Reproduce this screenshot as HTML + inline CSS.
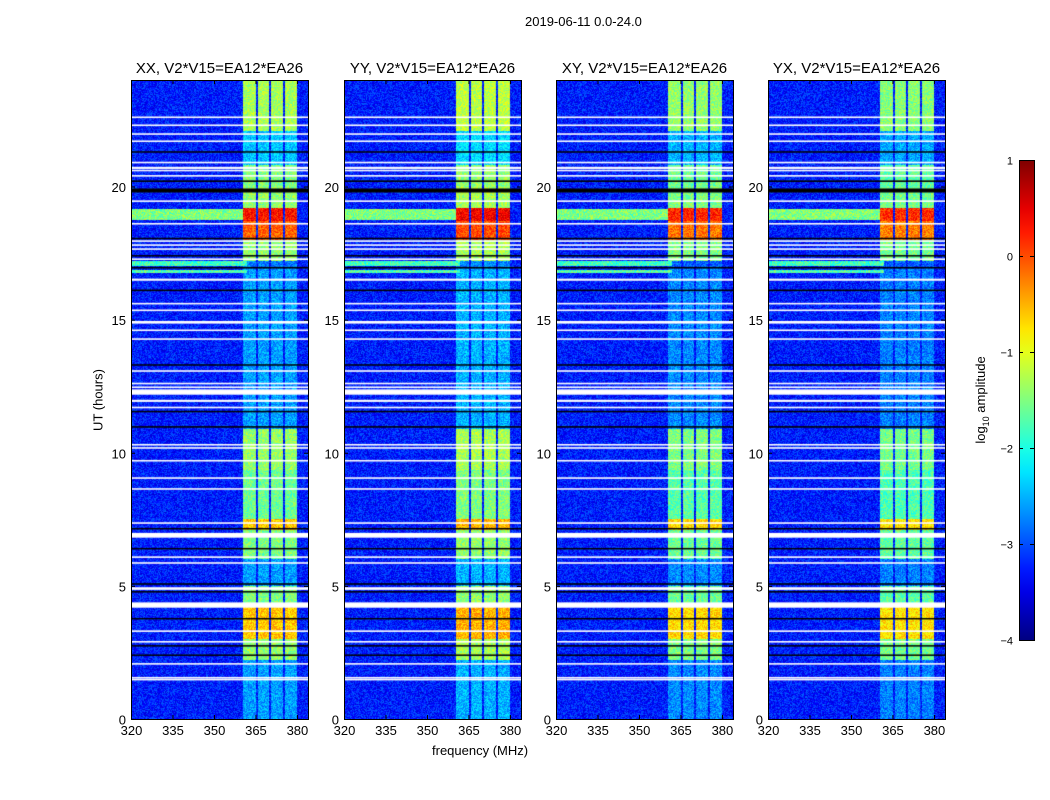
<!DOCTYPE html>
<html><head><meta charset="utf-8">
<style>
body{margin:0;background:#fff;font-family:"Liberation Sans",sans-serif;}
#wrap{position:relative;width:1050px;height:800px;overflow:hidden;background:#fff;}
.t{position:absolute;white-space:nowrap;color:#000;}
canvas{position:absolute;}
</style></head>
<body>
<div id="wrap">
<div class="t" style="left:525px;top:14px;font-size:13px;">2019-06-11 0.0-24.0</div>
<div class="t" style="left:432px;top:743px;font-size:13px;">frequency (MHz)</div>
<div class="t" style="left:98px;top:400px;font-size:13px;transform:translate(-50%,-50%) rotate(-90deg);">UT (hours)</div>
<div class="t" style="left:982px;top:400px;font-size:13px;transform:translate(-50%,-50%) rotate(-90deg);">log<sub style="font-size:9px">10</sub> amplitude</div>
<svg id="ov" width="1050" height="800" style="position:absolute;left:0;top:0"></svg>
</div>
<script>
const panelTitles=["XX, V2*V15=EA12*EA26","YY, V2*V15=EA12*EA26","XY, V2*V15=EA12*EA26","YX, V2*V15=EA12*EA26"];
const panelLeft=[131,344,556,768];
const xTicks=[320,335,350,365,380];
const yTicks=[0,5,10,15,20];
const cbTicks=[1,0,-1,-2,-3,-4];
const freqMin=320, freqMax=384, hourMin=0, hourMax=24;
const background=-3.25;
// RFI frequency bands [f0,f1]
const bandLo=[360.5,366,370.6,375.6];
const bandHi=[365.2,370,375.0,380];
// band level per time segment
const segStart=[0,2.2,3.0,4.3,5.0,6.0,7.1,7.5,9.35,10.9,16.9,17.2,18.0,18.7,19.2,20.0,20.8,22.1];
const segEnd  =[2.2,3.0,4.3,5.0,6.0,7.1,7.5,9.35,10.9,16.9,17.2,18.0,18.7,19.2,20.0,20.8,22.1,24];
const segLevel=[-2.6,-1.4,-0.6,-1.5,-2.6,-1.5,-0.6,-1.6,-1.4,-2.6,-2.8,-1.4,-0.1,0.3,-1.4,-1.5,-2.4,-1.3];
// broadband RFI rows
const bbStart=[16.75,17.0,18.75];
const bbEnd=[16.85,17.2,19.15];
const bbLevel=[-1.7,-1.8,-1.5];
// flagged rows: hour center, thickness (h), 1=white 0=black
const flagHour=[22.6,22.3,21.97,21.7,21.3,20.9,20.7,20.6,20.4,20.2,19.85,19.45,18.6,18.05,17.95,17.8,17.65,17.4,17.27,16.95,16.5,16.1,15.6,15.35,14.9,14.6,14.27,13.3,13.07,12.6,12.46,12.28,11.95,11.7,11.55,10.97,10.3,10.18,9.7,9.05,8.64,7.36,7.15,6.9,6.4,6.08,5.86,5.07,4.9,4.78,4.28,3.77,3.3,2.9,2.75,2.4,2.07,1.55,1.48];
const flagThick=[0.06,0.06,0.06,0.06,0.05,0.06,0.08,0.06,0.06,0.06,0.15,0.06,0.06,0.05,0.06,0.06,0.06,0.05,0.06,0.06,0.08,0.06,0.06,0.06,0.1,0.06,0.06,0.05,0.06,0.06,0.06,0.2,0.08,0.06,0.05,0.06,0.06,0.06,0.06,0.06,0.06,0.06,0.05,0.18,0.05,0.06,0.06,0.06,0.1,0.05,0.2,0.05,0.06,0.06,0.05,0.05,0.06,0.06,0.06];
const flagWhite=[1,1,1,1,0,1,1,1,1,0,0,1,1,0,1,1,1,0,1,0,1,0,1,1,1,1,1,0,1,1,1,1,1,1,0,0,1,1,1,1,1,1,0,1,0,1,1,0,1,0,1,0,1,1,0,0,1,1,1];
const panelOffset=[0,0.1,-0.1,-0.15];

const PW=177, PT=80, PB=719, PH=PB-PT;
const xs=f=>(f-freqMin)/(freqMax-freqMin)*PW;
const ys=h=>PB-(h-hourMin)/(hourMax-hourMin)*PH;
function jet(v){
  const c=x=>Math.max(0,Math.min(1,x));
  return [c(1.5-Math.abs(4*v-3)),c(1.5-Math.abs(4*v-2)),c(1.5-Math.abs(4*v-1))].map(x=>Math.round(x*255));
}
function hash(a,b,c){let h=(a*374761393+b*668265263+c*982451653)|0;h=(h^(h>>>13))*1274126177|0;return ((h^(h>>>16))>>>0)/4294967296;}
const wrap=document.getElementById('wrap');
const ov=document.getElementById('ov');
const NS='http://www.w3.org/2000/svg';
function sv(tag,attrs,parent){const e=document.createElementNS(NS,tag);for(const k in attrs)e.setAttribute(k,attrs[k]);(parent||ov).appendChild(e);return e;}

panelLeft.forEach((L,p)=>{
  const cv=document.createElement('canvas');
  
  
  cv.width=PW;cv.height=PH;cv.style.left=L+'px';cv.style.top=PT+'px';
  wrap.insertBefore(cv,ov);
  const ctx=cv.getContext('2d');const img=ctx.createImageData(PW,PH);
  for(let r=0;r<PH;r++){
    const h=hourMax-(r+0.5)/PH*(hourMax-hourMin);
    let seg=-3;for(let i=0;i<segStart.length;i++)if(h>=segStart[i]&&h<segEnd[i])seg=segLevel[i]+panelOffset[p];
    let bb=null;for(let i=0;i<bbStart.length;i++)if(h>=bbStart[i]&&h<bbEnd[i])bb=bbLevel[i];
    for(let c=0;c<PW;c++){
      const f=freqMin+(c+0.5)/PW*(freqMax-freqMin);
      const n=hash(c,r,p);
      let v=background+(n-0.5)*0.75;
      if(bb!==null&&f<362)v=bb+(n-0.5)*0.8;
      for(let b=0;b<bandLo.length;b++){
        if(f>=bandLo[b]&&f<bandHi[b]){v=Math.max(v,seg+(n-0.5)*0.7);}
      }
      const t=Math.max(0,Math.min(1,(v+4)/5));
      const col=jet(t);const k=(r*PW+c)*4;
      img.data[k]=col[0];img.data[k+1]=col[1];img.data[k+2]=col[2];img.data[k+3]=255;
    }
  }
  ctx.putImageData(img,0,0);
  for(let i=0;i<flagHour.length;i++){
    const y0=(hourMax-(flagHour[i]+flagThick[i]/2))/(hourMax-hourMin)*PH;
    const hh=Math.max(1.5,flagThick[i]/24*PH);
    ctx.fillStyle=flagWhite[i]?'#fff':'#000';
    ctx.fillRect(0,y0,PW,hh);
  }
  const fr=sv('rect',{x:L+0.5,y:PT+0.5,width:PW,height:PH,fill:'none',stroke:'#000','stroke-width':1});
  
  const tt=sv('text',{x:L+PW/2,y:73,'font-size':15,'text-anchor':'middle','font-family':'Liberation Sans, sans-serif'});
  tt.textContent=panelTitles[p];
  
  xTicks.forEach(v=>{
    const x=L+xs(v)+0.5;
    sv('line',{x1:x,x2:x,y1:PB,y2:PB-4,stroke:'#000'});
    sv('line',{x1:x,x2:x,y1:PT,y2:PT+4,stroke:'#000'});
    const t=sv('text',{x:x,y:PB+16,'font-size':13,'text-anchor':'middle','font-family':'Liberation Sans, sans-serif'});
    t.textContent=v;
    
  });
  yTicks.forEach(v=>{
    const y=ys(v)+0.5;
    sv('line',{x1:L,x2:L+4,y1:y,y2:y,stroke:'#000'});
    sv('line',{x1:L+PW,x2:L+PW-4,y1:y,y2:y,stroke:'#000'});
    const t=sv('text',{x:L-5,y:y+5,'font-size':13,'text-anchor':'end','font-family':'Liberation Sans, sans-serif'});
    t.textContent=v;
    
  });
});
const CBX=1019,CBW=15,CBT=160,CBB=640;
const defs=sv('defs',{});
const g=sv('linearGradient',{id:'jet',x1:0,y1:1,x2:0,y2:0},defs);
for(let i=0;i<=20;i++){const c=jet(i/20);sv('stop',{offset:i/20,'stop-color':`rgb(${c})`},g);}
const cb=sv('rect',{x:CBX+0.5,y:CBT+0.5,width:CBW,height:CBB-CBT,fill:'url(#jet)',stroke:'#000'});

cbTicks.forEach(v=>{
  const y=CBB-(v+4)/5*(CBB-CBT)+0.5;
  sv('line',{x1:CBX,x2:CBX+4,y1:y,y2:y,stroke:'#000'});
  sv('line',{x1:CBX+CBW,x2:CBX+CBW-4,y1:y,y2:y,stroke:'#000'});
  const t=sv('text',{x:CBX-6,y:y+4,'font-size':11,'text-anchor':'end','font-family':'Liberation Sans, sans-serif'});
  t.textContent=v<0?'\u2212'+(-v):v;
  
});
</script>
</body></html>
